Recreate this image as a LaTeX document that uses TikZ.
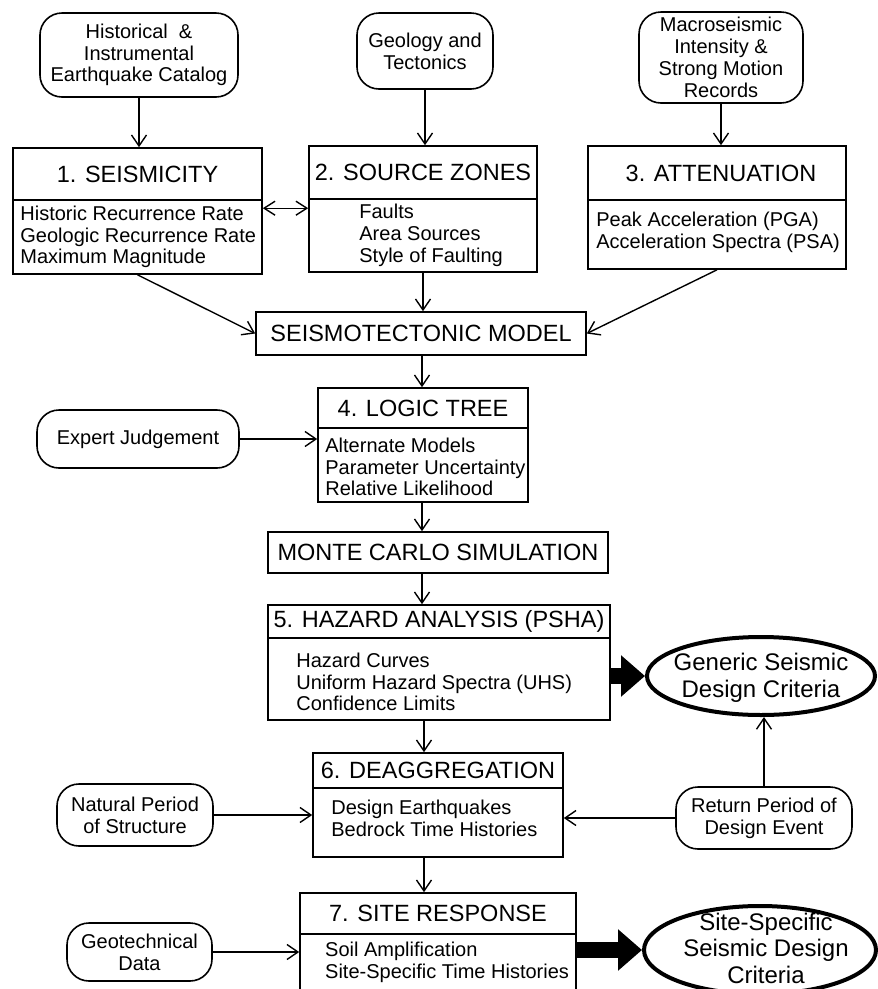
\documentclass[tikz,border=0pt]{standalone}
\usepackage{fontspec}
\setmainfont{Liberation Sans}
\usetikzlibrary{arrows.meta,shapes.geometric,calc}
\begin{document}
\begin{tikzpicture}[x=1pt,y=-1pt,
  box/.style={draw, line width=1.6pt, rectangle, inner sep=0pt},
  ttl/.style={box, font=\fontsize{23.5}{26}\selectfont},
  rbox/.style={draw, line width=1.6pt, rectangle, rounded corners=22pt, inner sep=0pt, align=center, font=\fontsize{20}{21.8}\selectfont},
  items/.style={align=left, inner sep=0pt, anchor=west, font=\fontsize{20}{21.7}\selectfont},
  arr/.style={line width=1.4pt, -{Straight Barb[length=11pt,width=15pt,line width=1.4pt]}},
  darr/.style={line width=1.4pt, {Straight Barb[length=11pt,width=14pt,line width=1.4pt]}-{Straight Barb[length=11pt,width=14pt,line width=1.4pt]}},
  big/.style={line width=16pt, -{Triangle[length=24pt,width=40pt]}},
  oval/.style={draw, ellipse, line width=4pt, inner sep=0pt},
  ovtext/.style={align=center, inner sep=0pt, font=\fontsize{24}{26.5}\selectfont},
]
\useasboundingbox (0,0) rectangle (878,989);
\clip (0,0) rectangle (878,989);

% input rounded boxes
\node[rbox, minimum width=198, minimum height=84] (hist) at (139,55) {Historical~ \&\\Instrumental\\Earthquake Catalog};
\node[rbox, minimum width=136, minimum height=76] (geo) at (425,51) {Geology and\\Tectonics};
\node[rbox, minimum width=164, minimum height=91] (macro) at (721,57.5) {Macroseismic\\Intensity \&\\Strong Motion\\Records};

% 1. Seismicity
\node[ttl, minimum width=249, minimum height=52] (s1t) at (137.5,174) {1. SEISMICITY};
\node[box, minimum width=249, minimum height=74] (s1b) at (137.5,237) {};
\node[items] at ($(s1b.west)+(8,0)$) {Historic Recurrence Rate\\Geologic Recurrence Rate\\Maximum Magnitude};

% 2. Source zones
\node[ttl, minimum width=228, minimum height=53] (s2t) at (423,172.5) {2. SOURCE ZONES};
\node[box, minimum width=228, minimum height=73] (s2b) at (423,235.5) {};
\node[items] at ($(s2b.west)+(51,0)$) {Faults\\Area Sources\\Style of Faulting};

% 3. Attenuation
\node[ttl, minimum width=258, minimum height=54] (s3t) at (717,173) {\hspace*{8pt}3. ATTENUATION};
\node[box, minimum width=258, minimum height=69] (s3b) at (717,234.5) {};
\node[items] at ($(s3b.west)+(9,-2)$) {Peak Acceleration (PGA)\\Acceleration Spectra (PSA)};

% Seismotectonic model
\node[ttl, minimum width=330, minimum height=43] (stm) at (421,333.5) {SEISMOTECTONIC MODEL};

% 4. Logic tree
\node[ttl, minimum width=210, minimum height=40] (l4t) at (423,408) {4. LOGIC TREE};
\node[box, minimum width=210, minimum height=74] (l4b) at (423,465) {};
\node[items] at ($(l4b.west)+(8,2)$) {Alternate Models\\Parameter Uncertainty\\Relative Likelihood};
\node[rbox, minimum width=202, minimum height=58] (ej) at (138,439) {Expert Judgement};

% Monte Carlo
\node[ttl, minimum width=340, minimum height=41] (mc) at (438,552.5) {MONTE CARLO SIMULATION};

% 5. Hazard analysis
\node[ttl, minimum width=342, minimum height=33] (h5t) at (439,621.5) {5. HAZARD ANALYSIS (PSHA)};
\node[box, minimum width=342, minimum height=82] (h5b) at (439,679) {};
\node[items] at ($(h5b.west)+(29,3)$) {Hazard Curves\\Uniform Hazard Spectra (UHS)\\Confidence Limits};
\node[oval, minimum width=228, minimum height=78] (gen) at (761,676) {};
\node[ovtext] at ([yshift=-2pt]gen.center) {Generic Seismic\\Design Criteria};

% 6. Deaggregation
\node[ttl, minimum width=250, minimum height=35] (d6t) at (438,770.5) {6. DEAGGREGATION};
\node[box, minimum width=250, minimum height=69] (d6b) at (438,822.5) {};
\node[items] at ($(d6b.west)+(19,-4)$) {Design Earthquakes\\Bedrock Time Histories};
\node[rbox, minimum width=156, minimum height=62] (np) at (135,815) {Natural Period\\of Structure};
\node[rbox, minimum width=176, minimum height=62] (rp) at (764,818) {Return Period of\\Design Event};

% 7. Site response
\node[ttl, minimum width=276, minimum height=41] (s7t) at (438,913.5) {7. SITE RESPONSE};
\node[box, minimum width=276, minimum height=76] (s7b) at (438,972) {};
\node[items] at (325,962) {Soil Amplification\\Site-Specific Time Histories};
\node[rbox, minimum width=145, minimum height=58] (gt) at (139.5,952) {Geotechnical\\Data};
\node[oval, minimum width=232, minimum height=88] (ss) at (760,950) {};
\node[ovtext] at ([xshift=6pt,yshift=2pt]ss.center) {Site-Specific\\Seismic Design\\Criteria};

% spine
\coordinate (spine) at (422,0);

% connectors
\draw[arr] (hist.south) -- (hist.south |- s1t.north);
\draw[arr] (geo.south) -- (geo.south |- s2t.north);
\draw[arr] (macro.south) -- (macro.south |- s3t.north);
\draw[darr] ([yshift=-9pt]s1b.north east) -- ([yshift=-9pt]s1b.north east -| s2b.west);
\draw[arr] (s1b.south) -- (stm.west);
\draw[arr] (s3b.south) -- (stm.east);
\draw[arr] (s2b.south) -- (s2b.south |- stm.north);
\draw[arr] (spine |- stm.south) -- (spine |- l4t.north);
\draw[arr] (spine |- l4b.south) -- (spine |- mc.north);
\draw[arr] (spine |- mc.south) -- (spine |- h5t.north);
\draw[arr] (ej.east) -- (ej.east -| l4b.west);
\draw[big] (h5b.east |- gen.west) -- (gen.west);
\draw[arr] ([xshift=2pt]spine |- h5b.south) -- ([xshift=2pt]spine |- d6t.north);
\draw[arr] (np.east) -- (np.east -| d6b.west);
\draw[arr] (rp.west) -- (rp.west -| d6b.east);
\draw[arr] (rp.north) -- (rp.north |- gen.south);
\draw[arr] ([xshift=2pt]spine |- d6b.south) -- ([xshift=2pt]spine |- s7t.north);
\draw[arr] (gt.east) -- (gt.east -| s7b.west);
\draw[big] (s7b.east |- ss.west) -- (ss.west);
\end{tikzpicture}
\end{document}
